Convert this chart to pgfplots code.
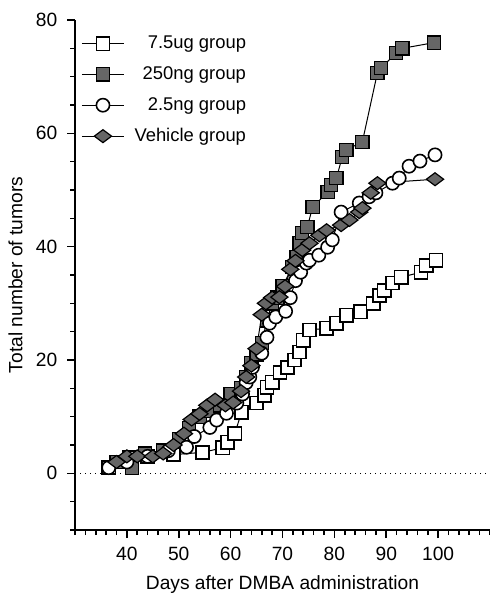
\documentclass[border=0pt]{standalone}
\usepackage{fontspec}
\setmainfont{Liberation Sans}
\usepackage{pgfplots}
\pgfplotsset{compat=1.18}
\definecolor{fillgray}{gray}{0.4}

\begin{document}
\fontsize{9.6}{11.5}\selectfont
\begin{tikzpicture}
\begin{axis}[
  scale only axis, width=207.5pt, height=255pt,
  xmin=30, xmax=110, ymin=-10, ymax=80,
  axis lines=left,
  axis line style={line width=0.9pt, -},
  xtick={40,50,...,100}, minor xtick={30,32,...,110},
  ytick={0,20,...,80}, minor ytick={-10,-5,...,80},
  tick align=outside,
  tick style={line width=0.8pt, black},
  major tick length=4pt, minor tick length=2.5pt,
  /pgf/number format/assume math mode=true,
  xticklabel style={yshift=-1pt},
  yticklabel style={xshift=-1.5pt},
  xlabel={Days after DMBA administration},
  ylabel={Total number of tumors},
  xlabel style={yshift=-1pt},
  ylabel style={yshift=0pt},
  legend style={at={(0.0,0.985)}, anchor=north west, draw=none, fill=none,
                row sep=3.5pt, column sep=3pt, font=\fontsize{9.2}{11}\selectfont},
  legend cell align=right,
  legend image code/.code={
    \draw[mark repeat=2, mark phase=2, #1]
      plot coordinates {(0cm,0cm) (0.37cm,0cm) (0.74cm,0cm)};},
  every axis plot/.append style={line width=0.5pt, black, mark size=3.3pt},
]

\addplot[dotted, line width=0.8pt, forget plot] coordinates {(30,0) (110,0)};

% 7.5ug group
\addplot[mark=square*, mark options={fill=white, line width=0.8pt}] coordinates {
 (36.5,1) (40.5,2.8) (44,3) (49,3.3) (54.6,3.7) (58.5,4.5) (59.4,5.5)
 (60.8,7) (62.1,10.8) (65,12.4) (66.5,13.8) (67,15.2) (68,16.1) (69.5,17.8)
 (71,18.7) (72.3,20) (73.3,21.4) (74,23.5) (75.2,25.3) (78.5,25.6)
 (80.4,26.5) (82.3,27.9) (85,28.5) (87.5,30) (88.7,31.4) (89.6,32.3)
 (91.2,33.6) (92.9,34.6) (96.7,35.5) (97.7,36.7) (99.6,37.6)};

% 250ng group
\addplot[mark=square*, mark options={fill=fillgray, line width=0.6pt}] coordinates {
 (38,2) (41,1) (43.5,3.5) (47,4) (50,6) (52,8) (54,10) (56,11) (58,12)
 (60,14) (62,15) (63,17) (64,19.5) (65,21) (66,23) (67,27) (68,30) (69,31)
 (70,33) (71.9,36.4) (72.7,38.2) (73.3,40.6) (73.8,42.4) (74.8,43.5)
 (75.8,47) (78.7,49.6) (79.4,50.9) (80.4,52.1) (81.5,55.8) (82.3,57.1)
 (85.4,58.5) (88.3,70.7) (89,71.5) (91.9,74.2) (93.1,75) (99.2,76)};

% 2.5ng group
\addplot[mark=*, mark options={fill=white, line width=0.8pt}] coordinates {
 (36.5,1) (40,2) (44,3) (48,4) (51.5,4.6) (53,6.5) (56,8.1) (57.3,9.4)
 (59.2,10.6) (61.2,12.4) (62.3,14) (63,16) (63.7,17) (64.2,18.7) (66,21.2)
 (67,24) (67.5,26.5) (68.7,27.6) (70.6,28.6) (71.5,31) (72.5,34) (73.5,35.5)
 (74.6,37.1) (75.2,37.6) (77,38.5) (78.7,39.9) (79.6,41.2) (81.3,46.1)
 (84.8,47.7) (86.7,48.8) (88,49.5) (91.2,51.2) (92.5,52.1) (94.4,54.2)
 (96.5,55.1) (99.4,56.2)};

% Vehicle group
\addplot[mark=diamond*, mark size=4.3pt, mark options={fill=fillgray, rotate=90, line width=0.6pt}] coordinates {
 (38,2) (40,3) (42,3) (45,3) (47,3.5) (49,5) (51,7) (52.5,9.5) (54,10.5)
 (55.5,12) (57,13) (59,12) (60.5,12.5) (62,14.5) (63,17) (64,19) (65,22)
 (66,28) (66.8,30) (68,31) (69.4,31.1) (70.5,33) (71.5,36) (72.5,37.5)
 (73.8,39.4) (75.2,40.6) (77.1,42) (78.5,42.9) (81.3,43.8) (82.9,44.7)
 (84.8,46.1) (85.4,46.8) (87,49.5) (88.3,51.2) (99.4,51.9)};

\legend{7.5ug group, 250ng group, 2.5ng group, Vehicle group}
\coordinate (o) at (rel axis cs:0,0);
\end{axis}
\pgfresetboundingbox
\path[use as bounding box] (o) ++(-37.5pt,-33.5pt) rectangle ++(245pt,298.5pt);
\end{tikzpicture}
\end{document}
